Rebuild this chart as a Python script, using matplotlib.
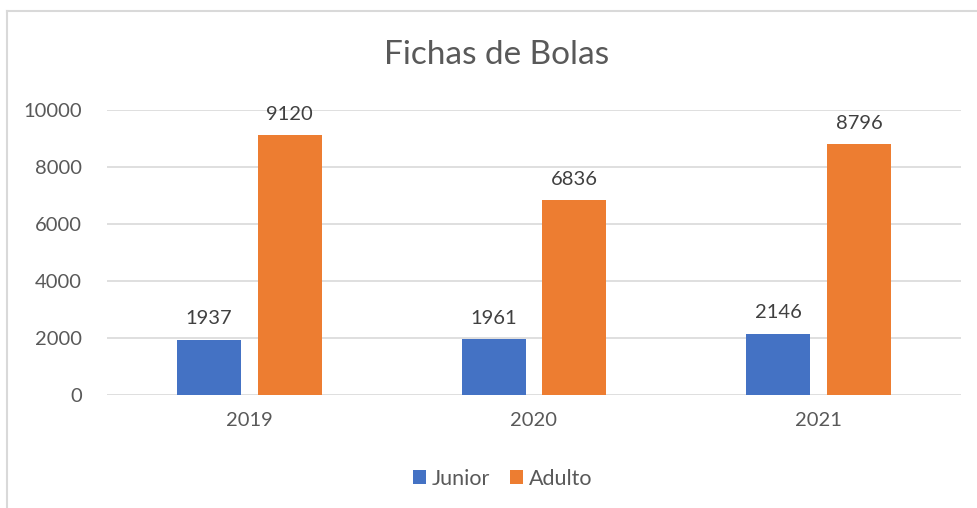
import numpy as np
import matplotlib.pyplot as plt
from matplotlib.lines import Line2D

years = ["2019", "2020", "2021"]
junior = [1937, 1961, 2146]
adulto = [9120, 6836, 8796]

plt.rcParams['font.family'] = ['Lato', 'DejaVu Sans']
txt = '#595959'

fig = plt.figure(figsize=(9.78, 5.08), dpi=100)
ax = fig.add_axes([0.1094, 0.2224, 0.8732, 0.5611])

x = np.arange(len(years))
w = 0.225
off = 0.142
b1 = ax.bar(x - off, junior, w, color='#4472C4', label='Junior', zorder=3)
b2 = ax.bar(x + off, adulto, w, color='#ED7D31', label='Adulto', zorder=3)

for bars in (b1, b2):
    for r in bars:
        ax.annotate(f"{int(r.get_height())}", (r.get_x() + r.get_width() / 2, r.get_height()),
                    xytext=(0, 9), textcoords='offset points', ha='center', va='bottom',
                    fontsize=14.5, color='#404040')

ax.set_xlim(-0.5, 2.5)
ax.set_ylim(0, 10000)
ax.set_yticks(range(0, 10001, 2000))
ax.set_xticks(x)
ax.set_xticklabels(years)
ax.grid(axis='y', color='#D9D9D9', linewidth=1.2, zorder=0)
for s in ax.spines.values():
    s.set_visible(False)
ax.tick_params(length=0, labelsize=14.5, colors=txt, pad=12)
ax.tick_params(axis='y', pad=18)

fig.text(0.508, 0.892, "Fichas de Bolas", ha='center', va='center', fontsize=24, color=txt)

leg = fig.legend(handles=[b1, b2], loc='center', bbox_to_anchor=(0.514, 0.058), ncol=2,
                 frameon=False, fontsize=15.5, handlelength=0.6, handleheight=0.6,
                 handletextpad=0.3, columnspacing=0.9)
for t in leg.get_texts():
    t.set_color(txt)

# chart area border
fig.add_artist(Line2D([7.5 / 978, 7.5 / 978], [0, 1 - 11 / 508], color='#D9D9D9', lw=1.5))
fig.add_artist(Line2D([7.5 / 978, 1], [1 - 11 / 508, 1 - 11 / 508], color='#D9D9D9', lw=1.5))

fig.savefig("out.png", dpi=100)
